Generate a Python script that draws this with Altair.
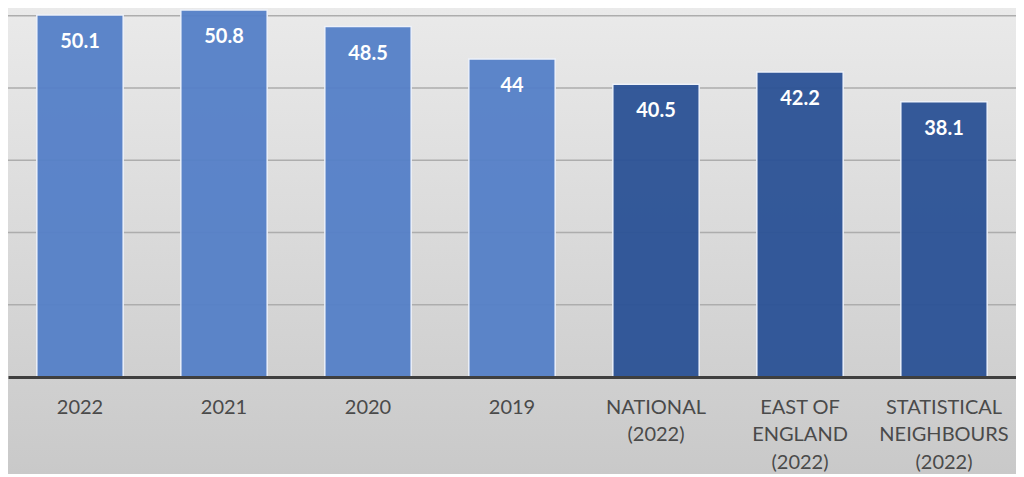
import altair as alt
import pandas as pd

categories = ["2022", "2021", "2020", "2019", "NATIONAL\n(2022)",
              "EAST OF\nENGLAND\n(2022)", "STATISTICAL\nNEIGHBOURS\n(2022)"]
values = [50.1, 50.8, 48.5, 44, 40.5, 42.2, 38.1]
groups = ["Local", "Local", "Local", "Local", "Comparator", "Comparator", "Comparator"]
grid_values = [10, 20, 30, 40, 50]

df = pd.DataFrame({"category": categories, "value": values, "group": groups})
grid_df = pd.DataFrame({"g": grid_values})

W, H, BOTTOM = 1008, 369, 97
FONT = "Lato"

yscale = alt.Scale(domain=[0, 51.07], nice=False, zero=True)
xscale = alt.Scale(domain=categories, paddingInner=0.40, paddingOuter=0.20)

bg = alt.Chart(pd.DataFrame({"a": [0]})).mark_rect(
    fill=alt.Gradient(
        gradient="linear", x1=0, y1=0, x2=0, y2=1,
        stops=[alt.GradientStop(offset=0, color="#eaeaea"),
               alt.GradientStop(offset=1, color="#c9c9c9")]
    ),
    strokeWidth=0,
).encode(x=alt.value(0), x2=alt.value(W), y=alt.value(0), y2=alt.value(H + BOTTOM))

grid = alt.Chart(grid_df).mark_rule(color="#adadad", strokeWidth=1.6).encode(
    y=alt.Y("g:Q", scale=yscale, axis=None)
)

base = alt.Chart(df).encode(
    x=alt.X("category:N", scale=xscale, sort=categories,
            axis=alt.Axis(title=None, labelAngle=0, ticks=False, domain=True,
                          domainColor="#3f3f3f", domainWidth=3, zindex=1,
                          labelFont=FONT, labelFontSize=20, labelColor="#4a4a4a",
                          labelPadding=20, labelLineHeight=27.5, labelOverlap=False,
                          labelLimit=0,
                          labelExpr="split(datum.label, '\\n')")),
    y=alt.Y("value:Q", scale=yscale, axis=None),
)

bars = base.mark_bar(stroke="#eef2fa", strokeWidth=1.5, opacity=0.95).encode(
    color=alt.Color("group:N",
                    scale=alt.Scale(domain=["Local", "Comparator"],
                                    range=["#5580c8", "#2b5296"]),
                    legend=None)
)

labels = base.mark_text(color="white", font=FONT, fontWeight="bold", fontSize=20,
                        baseline="alphabetic", dy=33).encode(
    text=alt.Text("value:Q")
)

chart = alt.layer(bg, grid, bars, labels).properties(
    width=W, height=H,
    autosize=alt.AutoSizeParams(type="none"),
    padding={"left": 0, "top": 0, "right": 0, "bottom": BOTTOM},
).configure_view(stroke=None).configure(background="#d4d4d4")

chart.save("out.html", embed_options={"renderer": "svg", "actions": False})
